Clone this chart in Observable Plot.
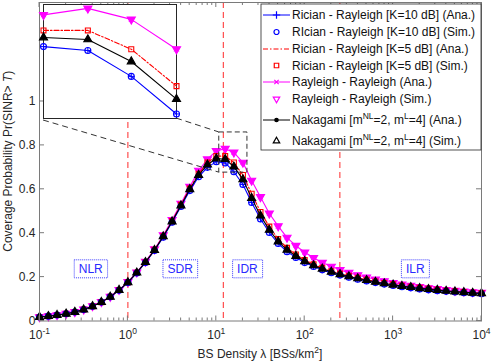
<!DOCTYPE html>
<html>
<head>
<meta charset="utf-8">
<script src="https://cdn.jsdelivr.net/npm/d3@7"></script>
<script src="https://cdn.jsdelivr.net/npm/@observablehq/plot@0.6"></script>
<style>
  body { margin: 0; background: #fff; }
  #wrap { position: relative; width: 491px; height: 362px; font-family: "Liberation Sans", Arial, sans-serif; }
  #inset { position: absolute; left: 43px; top: 4px; }
  svg { overflow: visible; }
</style>
</head>
<body>
<div id="wrap"><div id="main"></div><div id="inset"></div></div>
<script>
// ---------------- data ----------------
const density = [0.1,0.126,0.158,0.2,0.251,0.316,0.398,0.501,0.631,0.794,
  1,1.26,1.58,2,2.51,3.16,3.98,5.01,6.31,7.94,
  10,12.6,15.8,20,25.1,31.6,39.8,50.1,63.1,79.4,
  100,126,158,200,251,316,398,501,631,794,
  1000,1259,1585,1995,2512,3162,3981,5012,6310,7943,10000];

const rice10 = [0.018,0.022,0.027,0.033,0.041,0.052,0.067,0.086,0.110,0.140,
  0.175,0.219,0.266,0.321,0.382,0.450,0.522,0.594,0.657,0.700,
  0.726,0.720,0.680,0.622,0.540,0.465,0.403,0.353,0.316,0.289,
  0.266,0.248,0.233,0.220,0.209,0.199,0.190,0.182,0.175,0.168,
  0.162,0.156,0.151,0.146,0.142,0.138,0.135,0.132,0.129,0.126,0.124];

const rice5 = [0.018,0.022,0.027,0.033,0.041,0.052,0.067,0.086,0.110,0.141,
  0.176,0.220,0.268,0.324,0.386,0.455,0.529,0.604,0.671,0.722,
  0.751,0.751,0.722,0.665,0.580,0.497,0.430,0.373,0.333,0.303,
  0.278,0.258,0.242,0.227,0.216,0.206,0.197,0.188,0.180,0.173,
  0.167,0.161,0.156,0.151,0.147,0.142,0.138,0.135,0.132,0.129,0.127];

const rayleigh = [0.018,0.022,0.027,0.033,0.041,0.053,0.068,0.087,0.111,0.142,
  0.178,0.222,0.271,0.327,0.391,0.461,0.535,0.612,0.685,0.737,
  0.775,0.785,0.768,0.722,0.640,0.565,0.490,0.432,0.380,0.343,
  0.313,0.288,0.266,0.248,0.233,0.220,0.209,0.199,0.190,0.182,
  0.174,0.167,0.161,0.155,0.150,0.146,0.142,0.138,0.135,0.132,0.129];

const nakagami = [0.018,0.022,0.027,0.033,0.041,0.052,0.067,0.086,0.110,0.141,
  0.176,0.220,0.268,0.323,0.385,0.453,0.526,0.600,0.665,0.712,
  0.740,0.737,0.703,0.645,0.560,0.480,0.415,0.362,0.324,0.296,
  0.272,0.253,0.238,0.224,0.213,0.203,0.194,0.186,0.178,0.171,
  0.165,0.159,0.154,0.149,0.145,0.141,0.137,0.134,0.131,0.128,0.126];

const xTicks = [0.1, 1, 10, 100, 1000, 10000];
const yTicks = [0, 0.2, 0.4, 0.6, 0.8, 1];
const boundaries = [1, 12, 250];
const regionNames = ["NLR", "SDR", "IDR", "ILR"];
const regionX = [0.38, 3.9, 22.5, 1780];
const regionY = 0.237;
const zoomBox = {x1: 10.8, x2: 22.5, y1: 0.676, y2: 0.859};
const insetXDomain = [10, 20];
const insetYDomain = [0.615, 0.791];
const legendLabels = [
  "Rician - Rayleigh [K=10 dB] (Ana.)",
  "RIcian - Rayleigh [K=10 dB] (Sim.)",
  "Rician - Rayleigh [K=5 dB] (Ana.)",
  "Rician - Rayleigh [K=5 dB] (Sim.)",
  "Rayleigh - Rayleigh (Ana.)",
  "Rayleigh - Rayleigh (Sim.)",
  "Nakagami [m^NL=2, m^L=4] (Ana.)",
  "Nakagami [m^NL=2, m^L=4] (Sim.)"
];

// ---------------- styles ----------------
const FONT = '"Liberation Sans", Arial, sans-serif';
const triDown = {
  draw(ctx, size) {
    const y = Math.sqrt(size / (3 * Math.sqrt(3)));
    ctx.moveTo(0, 2 * y);
    ctx.lineTo(-Math.sqrt(3) * y, -y);
    ctx.lineTo(Math.sqrt(3) * y, -y);
    ctx.closePath();
  }
};
const series = [
  {values: rayleigh, color: "#ff00ff", dash: null, ana: "times", anaR: 2.2, sim: triDown, simR: 3, simFill: "#ff00ff"},
  {values: rice5, color: "#ff0000", dash: "5,2,1.5,2", ana: null, sim: "square", simR: 2.8, simFill: "none"},
  {values: rice10, color: "#0000ff", dash: null, ana: "plus", anaR: 2.2, sim: "circle", simR: 3, simFill: "none"},
  {values: nakagami, color: "#000000", dash: null, ana: "circle", anaR: 1.6, sim: "triangle", simR: 3, simFill: "#000000"}
];

function seriesMarks(keep) {
  const marks = [];
  for (const s of series) {
    const rows = density.map((x, i) => ({x, y: s.values[i]})).filter(d => keep(d.x));
    marks.push(Plot.line(rows, {x: "x", y: "y", stroke: s.color, strokeWidth: 1.1, strokeDasharray: s.dash}));
    if (s.ana) marks.push(Plot.dot(rows, {x: "x", y: "y", symbol: s.ana, r: s.anaR, stroke: s.color, fill: s.ana === "circle" ? s.color : "none", strokeWidth: 1}));
    marks.push(Plot.dot(rows, {x: "x", y: "y", symbol: s.sim, r: s.simR, stroke: s.color, fill: s.simFill, strokeWidth: 1.1}));
  }
  return marks;
}

// ---------------- main chart ----------------
const regions = regionNames.map((n, i) => ({n, x: regionX[i], y: regionY}));
const main = Plot.plot({
  width: 491, height: 362,
  marginLeft: 39, marginRight: 10, marginTop: 2, marginBottom: 41.5,
  x: {type: "log", domain: [0.1, 10000]},
  y: {domain: [0, 1.451]},
  style: {fontFamily: FONT, fontSize: "12px", color: "#262626", background: "white", overflow: "visible"},
  marks: [
    Plot.ruleX(boundaries, {stroke: "#ff2a2a", strokeWidth: 1, strokeDasharray: "6,4"}),
    ...seriesMarks(() => true),
    Plot.rect([zoomBox], {x1: "x1", x2: "x2", y1: "y1", y2: "y2", fill: "none", stroke: "#333", strokeWidth: 1, strokeDasharray: "5,3"}),
    Plot.text(regions, {x: "x", y: "y", text: "n", fill: "#2a2aff", fontSize: 12}),
    Plot.frame({stroke: "#7a7a7a", strokeWidth: 1}),
    Plot.axisY({ticks: yTicks, tickSize: 0, tickPadding: 4, tickFormat: d => String(d), label: null}),
    Plot.axisX({ticks: xTicks, tickSize: 0, tickPadding: 9, tickFormat: d => "10^" + Math.round(Math.log10(d)), label: null})
  ]
});
document.getElementById("main").appendChild(main);

const svg = d3.select(main);
const xs = main.scale("x"), ys = main.scale("y");
const X = v => xs.apply(v), Y = v => ys.apply(v);
const L = X(0.1), R = X(10000), B = Y(0), T = Y(1.451);

// tick label superscripts
svg.selectAll('[aria-label="x-axis tick label"] text').each(function () {
  const [base, exp] = this.textContent.split("^");
  const t = d3.select(this);
  t.text(base);
  t.append("tspan").attr("dy", "-5").attr("font-size", "8.5px").text(exp);
});

// inward ticks (MATLAB style)
const tg = svg.append("g").attr("stroke", "#7a7a7a").attr("stroke-width", 1);
const minor = [];
for (const d of xTicks.slice(0, -1)) for (let m = 2; m <= 9; m++) minor.push(d * m);
for (const v of xTicks) {
  tg.append("line").attr("x1", X(v)).attr("x2", X(v)).attr("y1", B).attr("y2", B - 5);
  tg.append("line").attr("x1", X(v)).attr("x2", X(v)).attr("y1", T).attr("y2", T + 5);
}
for (const v of minor) {
  tg.append("line").attr("x1", X(v)).attr("x2", X(v)).attr("y1", B).attr("y2", B - 3);
  tg.append("line").attr("x1", X(v)).attr("x2", X(v)).attr("y1", T).attr("y2", T + 3);
}
for (const v of yTicks) {
  tg.append("line").attr("x1", L).attr("x2", L + 5).attr("y1", Y(v)).attr("y2", Y(v));
  tg.append("line").attr("x1", R).attr("x2", R - 5).attr("y1", Y(v)).attr("y2", Y(v));
}

// axis titles
const xl = svg.append("text").attr("x", (L + R) / 2).attr("y", 358).attr("text-anchor", "middle")
  .attr("fill", "#262626").attr("font-size", "12px");
xl.append("tspan").text("BS Density ");
xl.append("tspan").text("λ");
xl.append("tspan").text(" [BSs/km");
xl.append("tspan").attr("dy", -5).attr("font-size", "8.5px").text("2");
xl.append("tspan").attr("dy", 5).text("]");

const yl = svg.append("text").attr("transform", `translate(12,${(T + B) / 2}) rotate(-90)`)
  .attr("text-anchor", "middle").attr("fill", "#262626").attr("font-size", "12px");
yl.append("tspan").text("Coverage Probability Pr(SINR> ");
yl.append("tspan").attr("font-style", "italic").text("T");
yl.append("tspan").text(")");

// dotted boxes around region labels
svg.selectAll('[aria-label="text"] text').each(function () {
  const bb = this.getBBox();
  d3.select(this.parentNode).insert("rect", () => this)
    .attr("transform", this.getAttribute("transform"))
    .attr("x", bb.x - 4.5).attr("y", bb.y - 2).attr("width", bb.width + 9).attr("height", bb.height + 4)
    .attr("fill", "white").attr("stroke", "#3a3aff").attr("stroke-width", 1).attr("stroke-dasharray", "1,1");
});

// connectors from inset to zoom box
const insetBox = {left: 43, right: 176, bottom: 118};
const cg = svg.append("g").attr("stroke", "#333").attr("stroke-width", 1).attr("stroke-dasharray", "6,4");
cg.append("line").attr("x1", insetBox.left).attr("y1", insetBox.bottom + 2).attr("x2", X(zoomBox.x1)).attr("y2", Y(zoomBox.y1));
cg.append("line").attr("x1", insetBox.right).attr("y1", insetBox.bottom).attr("x2", X(zoomBox.x1)).attr("y2", Y(zoomBox.y2));

// legend
const legendRowY = [15, 32, 49, 65.5, 82, 99, 120, 141];
const lg = svg.append("g").attr("font-size", "12px").attr("fill", "#111").attr("text-anchor", "start");
lg.append("rect").attr("x", 261).attr("y", 4).attr("width", R - 261).attr("height", 146)
  .attr("fill", "white").attr("stroke", "#262626").attr("stroke-width", 0.8);
const legendSym = [
  {color: "#0000ff", line: true, dash: null, sym: d3.symbolPlus, size: 20, fill: "none"},
  {color: "#0000ff", line: false, sym: d3.symbolCircle, size: 20, fill: "white"},
  {color: "#ff0000", line: true, dash: "5,2,1.5,2", sym: null},
  {color: "#ff0000", line: false, sym: d3.symbolSquare, size: 20, fill: "white"},
  {color: "#ff00ff", line: true, dash: null, sym: d3.symbolTimes, size: 14, fill: "none"},
  {color: "#ff00ff", line: false, sym: triDown, size: 18, fill: "white"},
  {color: "#000000", line: true, dash: null, sym: d3.symbolCircle, size: 9, fill: "#000"},
  {color: "#000000", line: false, sym: d3.symbolTriangle, size: 18, fill: "white"}
];
legendLabels.forEach((label, i) => {
  const cy = legendRowY[i], s = legendSym[i];
  if (s.line) lg.append("line").attr("x1", 263).attr("x2", 290).attr("y1", cy).attr("y2", cy)
    .attr("stroke", s.color).attr("stroke-width", 1).attr("stroke-dasharray", s.dash);
  if (s.sym) lg.append("path").attr("d", d3.symbol(s.sym, s.size)()).attr("transform", `translate(276.5,${cy})`)
    .attr("stroke", s.color).attr("fill", s.fill).attr("stroke-width", 1.2);
  const t = lg.append("text").attr("x", 292).attr("y", cy + 4.3).attr("text-anchor", "start");
  const parts = label.split(/(\^NL|\^L)/);
  let up = false;
  for (const p of parts) {
    if (p.startsWith("^")) {
      t.append("tspan").attr("dy", -5).attr("font-size", "8.5px").text(p.slice(1));
      up = true;
    } else if (p) {
      t.append("tspan").attr("dy", up ? 5 : 0).text(p);
      up = false;
    }
  }
});

// ---------------- inset ----------------
const inset = Plot.plot({
  width: 133, height: 114,
  marginLeft: 0, marginRight: 0, marginTop: 0, marginBottom: 0,
  x: {type: "log", domain: insetXDomain, axis: null},
  y: {domain: insetYDomain, axis: null},
  style: {background: "white", overflow: "visible"},
  marks: [
    Plot.frame({stroke: "#262626", strokeWidth: 1, fill: "white"}),
    ...seriesMarks(x => x >= insetXDomain[0] && x <= insetXDomain[1])
  ]
});
document.getElementById("inset").appendChild(inset);
</script>
</body>
</html>
